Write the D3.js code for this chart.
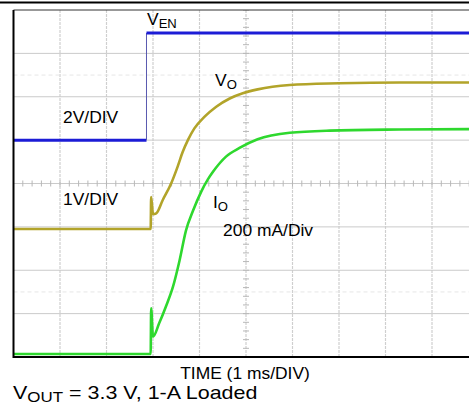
<!DOCTYPE html>
<html><head><meta charset="utf-8">
<script src="https://cdn.jsdelivr.net/npm/d3@7/dist/d3.min.js"></script>
<style>html,body{margin:0;padding:0;background:#fff;overflow:hidden}</style>
</head><body><svg id="c" width="469" height="419"></svg>
<script>
// ---- Data (time in ms, values in physical units) ----
const venTime  = [0, 2.86, 2.86, 10];
const venVolts = [0, 0, 4.94, 4.94];

const voTime  = [0, 2.95, 2.96, 3.0, 3.07, 3.21, 3.39, 3.53, 3.64, 3.75, 3.89, 4.11, 4.36, 4.65, 4.93, 5.25, 5.94, 7.0, 8.3, 10];
const voVolts = [0, 0, 0.74, 0.34, 0.36, 0.67, 1.05, 1.44, 1.78, 2.05, 2.32, 2.59, 2.82, 3.01, 3.13, 3.22, 3.32, 3.36, 3.38, 3.38];

const ioTime = [0, 2.95, 2.96, 3.0, 3.13, 3.28, 3.43, 3.57, 3.71, 3.86, 4.04, 4.18, 4.29, 4.57, 4.86, 5.25, 5.94, 6.8, 8.3, 10];
const ioAmps = [0, 0, 0.21, 0.08, 0.14, 0.22, 0.31, 0.43, 0.57, 0.66, 0.75, 0.805, 0.84, 0.91, 0.95, 0.99, 1.02, 1.03, 1.035, 1.037];

const xDivs = 10, yDivs = 8;
const labels = {
  ven: ["V", "EN"], vo: ["V", "O"], io: ["I", "O"],
  venScale: "2V/DIV", voScale: "1V/DIV", ioScale: "200 mA/Div",
  xTitle: "TIME (1 ms/DIV)",
  caption: ["V", "OUT", " = 3.3 V, 1-A Loaded"]
};

// ---- Layout ----
const plot = {left: 13.5, top: 10, bottom: 357, divW: 46.5};
const svg = d3.select('#c');
const x = d3.scaleLinear().domain([0, xDivs]).range([plot.left, plot.left + xDivs * plot.divW]);
const yDiv = d3.scaleLinear().domain([0, yDivs]).range([plot.bottom, plot.top]);
const channels = {
  ven: {offset: 5.0, perDiv: 2, color: "#1c1cd6"},
  vo:  {offset: 2.95, perDiv: 1, color: "#b2a42a"},
  io:  {offset: 0.07, perDiv: 0.2, color: "#2ed82e"}
};
const yOf = (ch, v) => yDiv(channels[ch].offset + v / channels[ch].perDiv);

svg.append("clipPath").attr("id", "clip").append("rect")
  .attr("x", plot.left).attr("y", plot.top).attr("width", 469 - plot.left).attr("height", plot.bottom - plot.top);

// top separator
svg.append("line").attr("x1", 0).attr("x2", 469).attr("y1", 2.5).attr("y2", 2.5)
  .attr("stroke", "#000").attr("stroke-width", 2);

const grid = svg.append("g").attr("clip-path", "url(#clip)");
d3.range(1, xDivs).forEach(k => {
  grid.append("line").attr("x1", x(k)).attr("x2", x(k)).attr("y1", plot.top).attr("y2", plot.bottom)
    .attr("stroke", "#cfcfcf").attr("stroke-width", 1.2).attr("stroke-dasharray", "3,1");
});
d3.range(1, yDivs).forEach(k => {
  grid.append("line").attr("x1", plot.left).attr("x2", 469).attr("y1", yDiv(k)).attr("y2", yDiv(k))
    .attr("stroke", "#cacaca").attr("stroke-width", 1);
});
[1.5, 6.5].forEach(k => {
  grid.append("line").attr("x1", plot.left).attr("x2", 469).attr("y1", yDiv(k)).attr("y2", yDiv(k))
    .attr("stroke", "#e6e6e6").attr("stroke-width", 1).attr("stroke-dasharray", "4,3");
});
d3.range(0, xDivs * 5 + 1).forEach(i => {
  const xx = x(i / 5);
  grid.append("line").attr("x1", xx).attr("x2", xx).attr("y1", yDiv(4) - 3).attr("y2", yDiv(4) + 3)
    .attr("stroke", "#b8b8b8").attr("stroke-width", 1);
});
d3.range(0, yDivs * 5 + 1).forEach(i => {
  const yy = yDiv(i / 5);
  grid.append("line").attr("x1", x(5) - 3).attr("x2", x(5) + 3).attr("y1", yy).attr("y2", yy)
    .attr("stroke", "#b8b8b8").attr("stroke-width", 1);
});

// ---- Traces ----
const traces = svg.append("g").attr("clip-path", "url(#clip)");
for (let i = 0; i < venTime.length - 1; i++) {
  const vertical = venTime[i] === venTime[i + 1];
  traces.append("line")
    .attr("x1", x(venTime[i])).attr("x2", x(venTime[i + 1]))
    .attr("y1", yOf("ven", venVolts[i])).attr("y2", yOf("ven", venVolts[i + 1]))
    .attr("stroke", vertical ? "#5a5ab0" : channels.ven.color)
    .attr("stroke-width", vertical ? 1 : 3);
}
const mk = (ch, ts, vs) => d3.line().curve(d3.curveMonotoneX)
  .x((d, i) => x(ts[i])).y((d, i) => yOf(ch, vs[i]))(vs);
traces.append("path").attr("d", mk("vo", voTime, voVolts)).attr("fill", "none")
  .attr("stroke", channels.vo.color).attr("stroke-width", 2.6).attr("stroke-linejoin", "round");
traces.append("path").attr("d", mk("io", ioTime, ioAmps)).attr("fill", "none")
  .attr("stroke", channels.io.color).attr("stroke-width", 2.6).attr("stroke-linejoin", "round");

// ---- Frame ----
svg.append("line").attr("x1", plot.left).attr("x2", 469).attr("y1", plot.top).attr("y2", plot.top)
  .attr("stroke", "#333").attr("stroke-width", 1);
svg.append("line").attr("x1", plot.left).attr("x2", 469).attr("y1", plot.bottom).attr("y2", plot.bottom)
  .attr("stroke", "#000").attr("stroke-width", 2);
svg.append("line").attr("x1", plot.left).attr("x2", plot.left).attr("y1", plot.top).attr("y2", plot.bottom + 1)
  .attr("stroke", "#000").attr("stroke-width", 2);

// ---- Text ----
const FONT = "'Liberation Sans', Arial, sans-serif";
function label(px, py, parts, size, subSize, anchor, sx) {
  const g = svg.append("g").attr("transform", `translate(${px},${py}) scale(${sx || 1.09},1)`);
  const t = g.append("text").attr("x", 0).attr("y", 0).attr("font-family", FONT)
    .attr("font-size", size).attr("fill", "#000").attr("text-anchor", anchor || "start");
  if (typeof parts === "string") { t.text(parts); return t; }
  t.append("tspan").text(parts[0]);
  t.append("tspan").attr("font-size", subSize).attr("dy", 3).text(parts[1]);
  if (parts[2]) t.append("tspan").attr("dy", -3).text(parts[2]);
  return t;
}
label(147, 25, labels.ven, 16, 12);
label(63, 123, labels.venScale, 16);
label(215, 86, labels.vo, 16, 12);
label(63, 205, labels.voScale, 16);
label(213, 208, labels.io, 16, 12);
label(223, 236, labels.ioScale, 16);
label(245, 379, labels.xTitle, 16, null, "middle");
label(13, 399, labels.caption, 19, 15, "start", 1.13);
</script></body></html>
